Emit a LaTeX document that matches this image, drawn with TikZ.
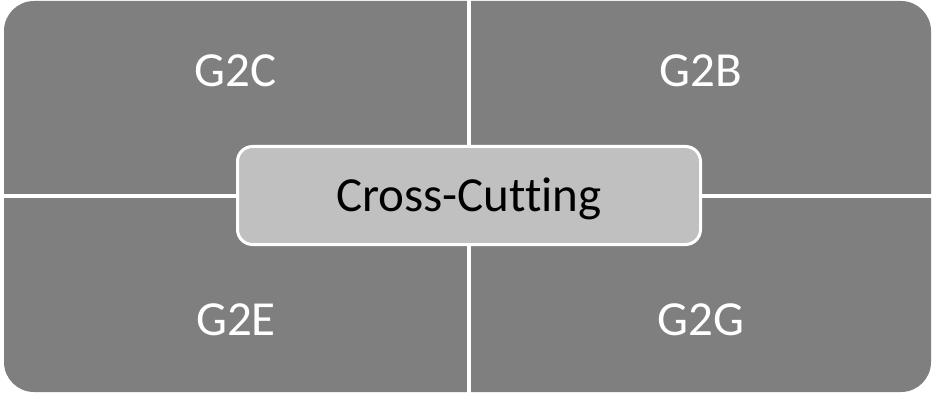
\documentclass[tikz,border=0pt]{standalone}
\usepackage{fontspec}
\setmainfont{Carlito}[Ligatures=NoCommon]
\usetikzlibrary{positioning}
\definecolor{quadgray}{RGB}{127,127,127}
\definecolor{boxgray}{RGB}{192,192,192}
\tikzset{
  quadlabel/.style={text=white, font=\fontsize{49}{55}\selectfont, inner sep=0pt, text height=31.6pt, text depth=0pt},
  corebox/.style={draw=white, line width=3pt, fill=boxgray, rounded corners=15pt, minimum width=463pt, minimum height=98pt, inner sep=0pt, font=\fontsize{49}{55}\selectfont, text height=31.6pt, text depth=0pt}
}
\begin{document}
\begin{tikzpicture}[x=1pt,y=1pt]
    \useasboundingbox (0,0) rectangle (933,394);
    % panel and gaps
    \fill[quadgray, rounded corners=30pt] (4,2) rectangle (931,393);
    \coordinate (top) at (469,394);
    \coordinate (bot) at (469,0);
    \coordinate (lft) at (0,198);
    \coordinate (rgt) at (933,198);
    \draw[white, line width=4pt] (top) -- (bot);
    \draw[white, line width=4pt] (lft) -- (rgt);
    % quadrant labels
    \node[quadlabel] (g2c) at (235.5,323) {G2C};
    \node[quadlabel] (g2b) at (701,323) {G2B};
    \node[quadlabel] (g2e) at (236,74) {G2E};
    \node[quadlabel] (g2g) at (701,74) {G2G};
    \node[corebox] (cross) at (469,198.5) {Cross-Cutting};
\end{tikzpicture}
\end{document}
